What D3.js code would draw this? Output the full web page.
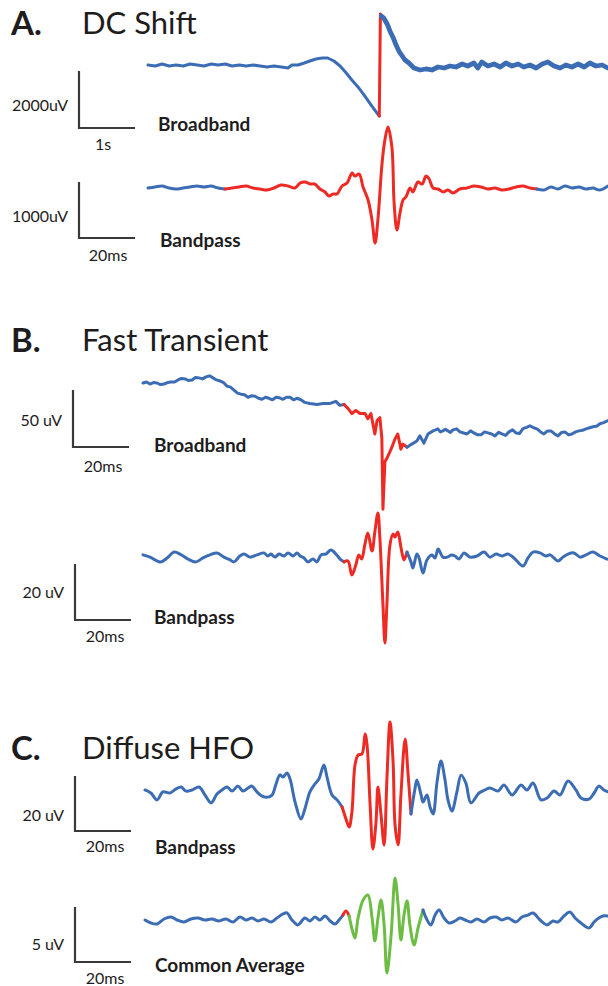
<!DOCTYPE html>
<html>
<head>
<meta charset="utf-8">
<script src="https://cdn.jsdelivr.net/npm/d3@7"></script>
<style>
  body { margin: 0; background: #fff; }
  text { font-family: Lato, "Open Sans", sans-serif; fill: #1e1c1d; }
</style>
</head>
<body>
<div id="chart"></div>
<script>
// [time, value] samples; time in s (DC broadband) or ms, value in uV
const dcBroad = [[0,35],[0.13,0],[0.25,70],[0.38,0],[0.5,35],[0.63,0],[0.75,70],[0.88,35],[1,0],[1.13,70],[1.25,35],[1.38,70],[1.5,0],[1.63,35],[1.75,0],[1.88,35],[2,0],[2.13,-35],[2.25,0],[2.38,-35],[2.5,-70],[2.57,35],[2.68,35],[2.79,105],[2.89,175],[3,245],[3.11,280],[3.21,280],[3.32,175],[3.43,0],[3.54,-245],[3.64,-490],[3.75,-735],[3.86,-1020],[3.96,-1300],[4.05,-1545],[4.13,-1755],[4.15,1825],[4.17,1750],[4.21,1685],[4.27,1475],[4.32,1230],[4.38,985],[4.43,735],[4.48,525],[4.54,350],[4.59,210],[4.66,105],[4.75,-70],[4.86,-140],[4.96,-105],[5.07,-140],[5.18,-35],[5.29,-70],[5.39,0],[5.5,-35],[5.61,70],[5.71,0],[5.82,105],[5.89,-70],[5.96,140],[6.07,0],[6.18,70],[6.29,-35],[6.39,105],[6.5,0],[6.61,70],[6.71,-35],[6.82,35],[6.93,-70],[7.04,70],[7.14,140],[7.25,0],[7.36,-70],[7.46,35],[7.57,-35],[7.68,70],[7.79,-35],[7.89,105],[8,0],[8.11,35],[8.21,-70]];
const dcBand = [[0,0],[2.5,18],[5,36],[7.5,0],[10,-18],[12.5,0],[15,18],[17.5,36],[20,18],[22.5,36],[25,0],[27.5,-18],[30,0],[32.5,18],[35,36],[37.5,0],[40,-18],[42.5,-36],[45,0],[47.5,54],[50,36],[52.5,0],[54.3,89],[56.1,107],[57.9,71],[59.6,71],[61.4,-18],[63.2,-71],[64.6,-143],[66.1,-107],[67.5,-107],[69.3,36],[71.1,89],[72.9,268],[73.9,214],[75.4,250],[76.8,18],[78.6,-214],[80,-571],[81.1,-982],[82.1,-571],[83.6,446],[84.6,857],[85.7,1089],[87.1,732],[87.9,-268],[88.9,-750],[90,-446],[91.1,-214],[92.1,-161],[93.6,0],[94.6,-71],[96.4,107],[97.9,71],[99.3,214],[100.4,161],[101.8,0],[103.6,-18],[105.4,-71],[107.1,-36],[108.9,-89],[111.4,-18],[113.9,0],[116.4,36],[118.9,18],[121.4,-18],[123.9,0],[126.4,-36],[128.9,-18],[131.4,18],[133.9,36],[136.4,0],[138.9,-18],[141.4,-36],[143.9,18],[146.4,-18],[148.9,36],[151.4,0],[153.9,18],[156.4,-18],[158.9,0],[161.4,-36],[164.3,36]];
const ftBroad = [[0,0],[1.25,0.9],[2.5,-0.9],[3.75,0.4],[5,0],[6.25,-1.4],[7.5,-0.9],[8.75,0.4],[10,0.9],[11.25,0.9],[12.5,2.7],[13.75,4],[15,3.6],[16.25,2.2],[17.5,2.7],[18.75,4.9],[20,4.5],[21.25,3.6],[22.5,5.4],[23.75,6.3],[25,4.5],[26.25,2.7],[27.5,1.8],[28.75,0.4],[30,-2.7],[31.25,-3.6],[32.5,-6.3],[33.75,-8.9],[35,-9.8],[36.25,-10.3],[37.5,-12.5],[38.75,-11.2],[40,-11.6],[41.25,-13.4],[42.5,-14.3],[43.75,-12.5],[45,-13.4],[46.25,-14.7],[47.5,-12.5],[48.75,-13],[50,-14.3],[51.25,-12.5],[52.5,-12.5],[53.75,-14.7],[55,-13.4],[56.4,-14.7],[57.8,-17],[59.6,-17.9],[62.1,-18.8],[64.3,-17.9],[66.8,-17.9],[68.9,-16.1],[70.3,-19.6],[71.8,-18.8],[73.2,-22.3],[74.6,-26.8],[76,-24.1],[77.5,-26.8],[79.3,-26.8],[80.3,-31.3],[81.4,-26.8],[82.1,-35.7],[82.8,-44.7],[83.6,-33],[84.6,-30.4],[85.3,-48.2],[85.7,-110.7],[86.4,-68.8],[87.1,-66.1],[88.6,-58],[90,-49.1],[91,-44.7],[92.1,-58],[92.8,-53.6],[94.3,-56.3],[96,-53.6],[97.8,-50.9],[98.9,-46.4],[100.3,-52.7],[101.8,-44.7],[103.6,-42],[104.5,-41.1],[105.3,-40.2],[106.2,-42.9],[107.1,-42],[108,-40.6],[108.9,-42],[109.8,-43.3],[110.7,-41.1],[112,-40.2],[113.2,-42.9],[114.5,-43.8],[115.7,-44.7],[117,-42],[118.2,-43.8],[119.5,-45.5],[120.7,-45.5],[122,-42.9],[123.2,-43.8],[124.5,-44.7],[125.7,-46.4],[127,-43.3],[128.2,-44.7],[129.5,-46],[130.7,-42.9],[132,-41.1],[133.2,-43.8],[134.5,-44.2],[135.7,-40],[137,-38.9],[138.2,-37.5],[139.5,-39.3],[140.7,-40.2],[142,-42.9],[143.2,-44.7],[144.5,-42],[145.7,-42],[147,-44.7],[148.2,-46.4],[149.5,-43.3],[150.7,-42.9],[152,-45.5],[153.2,-44.7],[154.5,-42.9],[155.7,-42],[157,-41.5],[158.2,-40.2],[159.5,-39.3],[160.7,-38.4],[162,-37.9],[163.2,-35.7],[164.5,-34.8],[166.1,-33]];
const ftBand = [[0,0.4],[2.5,-0.4],[4.3,-1.4],[6.4,-2.1],[8.6,-0.7],[11.1,1.4],[13.2,0.7],[16.1,-1.1],[18.9,-2.1],[21.4,-0.7],[23.9,0.4],[26.4,1.1],[28.9,-0.4],[31.1,-1.4],[32.5,-2.1],[34.6,0],[36.1,0.7],[38.2,-0.4],[40.7,0.4],[43.2,1.1],[44.6,0],[45.7,0.7],[47.1,-0.4],[48.6,0.7],[50.3,0],[51.8,1.1],[53.6,0],[55,1.1],[56.1,0],[57.5,-0.7],[58.9,-2.1],[60.7,-1.1],[62.1,-2.1],[63.6,0.4],[65.3,0.7],[67.1,2.1],[68.9,0.7],[70.7,-1.4],[71.8,-2.1],[73.2,-1.8],[74.6,-6.8],[76,-3.2],[77.1,0.4],[78.1,-1.1],[79.2,3.9],[80.3,8.2],[81.8,1.8],[82.8,8.6],[83.9,15.4],[84.6,6.4],[85.7,-17.5],[86.4,-31.1],[87.1,-17.5],[88.2,3.9],[89.3,7.9],[90,6.8],[91,8.6],[92.1,3.2],[93.2,-1.4],[94.3,1.4],[95.7,-2.1],[96.4,-4.3],[97.8,0.7],[98.6,-0.7],[100,-6.1],[101.4,-1.4],[103.2,0.4],[104.3,-0.7],[105.4,2.5],[107.1,-0.4],[108.6,-0.4],[110.3,0.4],[111.4,0],[112.9,-1.1],[114.6,1.1],[116.8,-0.4],[119.3,0],[121.8,1.4],[123.9,-0.4],[126.1,0.7],[128.2,0],[130.3,0.7],[132.5,-0.7],[135.7,-3.6],[137.5,-0.7],[139.3,1.4],[141.8,1.1],[143.9,0],[145.4,0.4],[146.8,-0.7],[148.2,-1.8],[150,-0.4],[151.8,0.7],[153.9,1.1],[156.1,-0.4],[158.2,0.4],[160.7,1.4],[163.2,0],[165.7,-1.1]];
const hfoBand = [[0,1.1],[2.1,0],[4.3,-2.5],[6.4,0.4],[8.9,0],[11.1,1.5],[12.9,2.2],[14.6,0.7],[16.8,1.1],[19.3,2.2],[21.4,-0.7],[23.6,-3.6],[25.7,-0.4],[27.5,1.1],[29.3,2.2],[31.1,0.7],[33.2,2.5],[35,0.7],[36.8,1.8],[38.2,2.5],[40,0.4],[41.8,-1.1],[43.9,-1.5],[45.4,-0.7],[46.8,3.3],[48.2,6.6],[49.3,5.8],[50.7,7.3],[51.8,5.1],[53.6,-3.3],[55.7,-9.5],[57.1,-5.8],[58.9,0.4],[60.7,3.3],[62.1,5.1],[63.9,10.2],[65,5.8],[66.8,-0.7],[68.6,-2.5],[70.4,-5.1],[71.8,-9.5],[72.9,-12.4],[73.9,-6.9],[75,10.2],[76.1,13.8],[77.5,14.2],[78.6,21.5],[79.3,17.5],[80.4,-4.4],[81.4,-20.4],[82.5,-10.6],[83.2,2.2],[84.3,-8],[85.4,-18.9],[86.4,5.1],[87.5,25.8],[88.6,11.3],[89.3,-11.6],[90.4,-18.9],[91.4,-0.7],[92.9,19.6],[93.9,7.6],[95,-7.6],[96.4,1.5],[97.1,4.7],[98.6,-0.7],[99.3,-3.3],[100.7,-0.7],[101.8,-5.1],[102.9,-7.6],[104.3,4],[105.7,11.6],[107.1,5.1],[108.2,-2.5],[109.6,-6.6],[111.4,0.4],[112.9,6.5],[114.6,3.6],[116.4,-3.6],[119.3,0],[121.4,1.1],[123.2,1.8],[126.1,0.7],[128.2,2.9],[131.1,-0.7],[134.3,2.9],[136.4,1.1],[138.6,3.6],[141.4,-2.5],[143.6,-1.8],[146.1,0.7],[148.2,-0.7],[151.1,4.4],[153.9,1.1],[155.7,-1.8],[158.6,-2.2],[160.4,0],[162.1,2.5],[163.9,1.1],[165.4,0.4]];
const hfoCar = [[0,0],[2.1,-0.27],[4.3,-0.36],[6.8,0.09],[9.3,0.27],[11.4,0],[13.9,-0.18],[16.4,0.09],[18.9,0.18],[21.4,0],[23.9,0.09],[26.4,-0.09],[28.9,0.09],[31.4,-0.18],[33.9,0.27],[36.1,0],[38.2,0.18],[40.4,-0.09],[42.5,0.09],[45,-0.18],[47.1,0.18],[49.3,0.55],[50.7,0.64],[52.5,0],[54.6,-0.45],[57.1,0.18],[58.9,-0.09],[60.7,0.27],[62.5,0],[64.3,0.36],[66.1,-0.09],[67.9,-0.36],[69.3,0],[70.7,0.45],[71.8,0.82],[72.9,0.36],[74.3,-1.18],[75,-1.64],[76.1,0.18],[77.9,1.82],[79.6,2.27],[81.1,0.18],[82.1,-1.91],[83.2,0.18],[84.3,1.82],[85.4,-0.45],[86.4,-4.82],[87.9,-1.36],[89.3,3.82],[90.4,1.36],[91.4,-1.82],[92.5,0.45],[93.6,1.73],[94.6,-0.45],[96.1,-2.27],[97.5,-0.73],[99.3,0.91],[100.4,0.18],[102.1,-0.45],[103.6,0.45],[105,0.91],[106.8,0.18],[108.6,-0.27],[110.7,-0.09],[112.5,0.18],[114.3,0],[116.4,-0.18],[118.6,0.09],[121.1,-0.18],[123.2,0.18],[125.4,0.27],[127.5,0],[129.6,0.18],[132.5,-0.18],[134.6,0.27],[136.8,0.45],[138.6,0.64],[141.1,0],[143.6,-0.45],[145.7,-0.09],[147.5,-0.18],[149.6,0.36],[151.8,0.73],[153.6,0.18],[155.7,-0.27],[158.6,-0.73],[160.4,-0.18],[162.1,0.18],[163.6,0.36],[165.4,0.36]];

// detected event intervals (same time units as the trace)
const dcBroadEvent = [4.13, 4.17];
const dcBandEvent = [27.5, 138.9];
const ftBroadEvent = [71.8, 94.3];
const ftBandEvent = [71.8, 94.3];
const hfoBandEvent = [70.4, 95];
const hfoCarEvent = [70.7, 72.9];
const hfoCarCommon = [72.9, 99.3];

// scale bar values: [amplitude uV, time]
const scaleBars = [[2000, 1], [1000, 20], [50, 20], [20, 20], [20, 20], [5, 20]];
const ampLabels = ['2000uV', '1000uV', '50 uV', '20 uV', '20 uV', '5 uV'];
const timeLabels = ['1s', '20ms', '20ms', '20ms', '20ms', '20ms'];
const traceNames = ['Broadband', 'Bandpass', 'Broadband', 'Bandpass', 'Bandpass', 'Common Average'];
const panelLetters = ['A.', 'B.', 'C.'];
const panelTitles = ['DC Shift', 'Fast Transient', 'Diffuse HFO'];

const width = 608, height = 986;
const blue = '#3c6db4', red = '#ed2a24', green = '#6dbd45', ink = '#3a3a3a';

const svg = d3.select('#chart').append('svg')
    .attr('width', width)
    .attr('height', height)
    .style('background', '#fff');

const titleY = [23, 340, 748];
panelLetters.forEach((l, i) => {
    svg.append('text').attr('x', 11).attr('y', titleY[i]).attr('dy', '0.35em')
        .style('font-size', '33px').style('font-weight', 700).text(l);
    svg.append('text').attr('x', 82).attr('y', titleY[i]).attr('dy', '0.35em')
        .style('font-size', '31px').style('font-weight', 400).text(panelTitles[i]);
});

// layout for each trace
const layout = [
    {data: dcBroad, hl: [[dcBroadEvent, red]], x0: 148, base: 66, barX: 79, barBottom: 128, barPx: 57, ampY: 105, timeX: 103, timeY: 144, nameX: 158, nameY: 124, linear: true, thickAfter: true},
    {data: dcBand, hl: [[dcBandEvent, red]], x0: 148, base: 188, barX: 79, barBottom: 238, barPx: 56, ampY: 216, timeX: 108, timeY: 255, nameX: 160, nameY: 240},
    {data: ftBroad, hl: [[ftBroadEvent, red]], x0: 143, base: 383, barX: 73, barBottom: 447, barPx: 57, ampY: 420, timeX: 103, timeY: 466, nameX: 154, nameY: 445, linear: true},
    {data: ftBand, hl: [[ftBandEvent, red]], x0: 143, base: 556, barX: 75, barBottom: 620, barPx: 56, ampY: 592, timeX: 105, timeY: 636, nameX: 154, nameY: 617},
    {data: hfoBand, hl: [[hfoBandEvent, red]], x0: 145, base: 793, barX: 75, barBottom: 831, barPx: 55, ampY: 815, timeX: 105, timeY: 846, nameX: 155, nameY: 847},
    {data: hfoCar, hl: [[hfoCarEvent, red], [hfoCarCommon, green]], x0: 145, base: 920, barX: 75, barBottom: 962, barPx: 55, ampY: 944, timeX: 105, timeY: 978, nameX: 155, nameY: 965}
];

function pieces(data, hl) {
    const t0 = data[0][0], t1 = data[data.length - 1][0];
    const cuts = [t0].concat(...hl.map(h => h[0]), [t1]);
    const out = [];
    for (let i = 0; i < cuts.length - 1; i++) {
        const a = cuts[i], b = cuts[i + 1];
        if (b <= a) continue;
        const h = hl.find(h => h[0][0] === a && h[0][1] === b);
        out.push({pts: data.filter(d => d[0] >= a && d[0] <= b), color: h ? h[1] : blue, after: a >= hl[0][0][1]});
    }
    return out;
}

layout.forEach((c, i) => {
    const [ampV, timeV] = scaleBars[i];
    const x = d3.scaleLinear().domain([0, timeV]).range([c.x0, c.x0 + 56]);
    const y = d3.scaleLinear().domain([0, ampV]).range([c.base, c.base - c.barPx]);
    const line = d3.line()
        .x(d => x(d[0]))
        .y(d => y(d[1]))
        .curve(c.linear ? d3.curveLinear : d3.curveCatmullRom.alpha(0.5));

    pieces(c.data, c.hl).forEach(p => {
        svg.append('path')
            .attr('d', line(p.pts))
            .attr('fill', 'none')
            .attr('stroke', p.color)
            .attr('stroke-width', c.thickAfter && p.after ? 4.8 : 3)
            .attr('stroke-linejoin', 'round')
            .attr('stroke-linecap', 'round');
    });

    // scale bar drawn through the same scales as the trace
    const barH = y(0) - y(ampV), barW = x(timeV) - x(0);
    svg.append('path')
        .attr('d', `M${c.barX},${c.barBottom - barH}V${c.barBottom}H${c.barX + barW}`)
        .attr('fill', 'none')
        .attr('stroke', ink)
        .attr('stroke-width', 2.2);

    svg.append('text').attr('x', c.barX - 11).attr('y', c.ampY).attr('dy', '0.35em')
        .attr('text-anchor', 'end').style('font-size', '16px').text(ampLabels[i]);
    svg.append('text').attr('x', c.timeX).attr('y', c.timeY).attr('dy', '0.35em')
        .attr('text-anchor', 'middle').style('font-size', '16px').text(timeLabels[i]);
    svg.append('text').attr('x', c.nameX).attr('y', c.nameY).attr('dy', '0.35em')
        .style('font-size', '19px').style('font-weight', 700).text(traceNames[i]);
});
</script>
</body>
</html>
